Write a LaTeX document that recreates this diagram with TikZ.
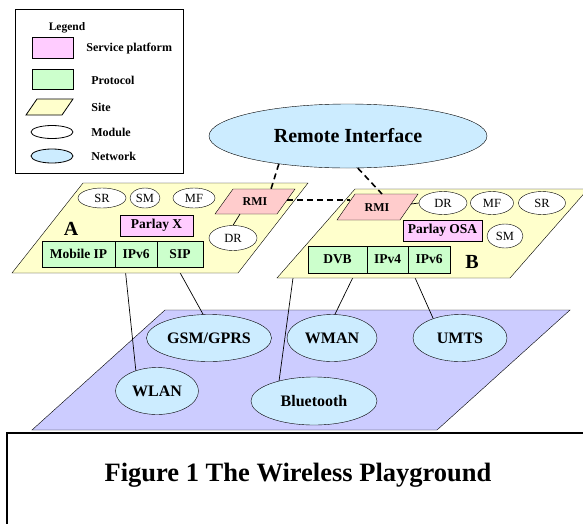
\documentclass[tikz,border=0pt]{standalone}
\usepackage{fontspec}
\setmainfont{Liberation Serif}
\usetikzlibrary{shapes.geometric}
\pgfdeclarelayer{planelayer}
\pgfdeclarelayer{linklayer}
\pgfsetlayers{planelayer,linklayer,main}
\definecolor{svcpink}{HTML}{FFCCFF}
\definecolor{protogreen}{HTML}{CCFFCC}
\definecolor{siteyellow}{HTML}{FFFFCC}
\definecolor{netblue}{HTML}{CCECFF}
\definecolor{rmipink}{HTML}{FFCCCC}
\definecolor{planeblue}{HTML}{CCCCFF}
\begin{document}
\begin{tikzpicture}[x=1pt,y=-1pt,line width=0.8pt,
  module/.style={ellipse, draw, fill=white, inner sep=0pt, font=\fontsize{12.5}{14}\selectfont},
  network/.style={ellipse, draw, fill=netblue, inner sep=0pt, font=\fontsize{16}{18}\selectfont\bfseries},
  proto/.style={rectangle, draw, fill=protogreen, inner sep=0pt, font=\fontsize{13.5}{16}\selectfont\bfseries},
  svc/.style={rectangle, draw, fill=svcpink, inner sep=0pt, font=\fontsize{13.5}{16}\selectfont\bfseries},
  sitebox/.style={draw, fill=siteyellow},
  rmibox/.style={draw, fill=rmipink},
  lbl/.style={inner sep=0pt, font=\fontsize{12}{14}\selectfont\bfseries},
  rmilbl/.style={inner sep=0pt, font=\fontsize{12}{14}\selectfont\bfseries},
  sitelbl/.style={inner sep=0pt, font=\fontsize{20}{22}\selectfont\bfseries},
  wire/.style={line width=0.7pt},
  rwire/.style={line width=1.6pt, dash pattern=on 6pt off 4pt}]
\useasboundingbox (0,0) rectangle (583,523);

% ---------- legend ----------
\draw[line width=0.8pt] (15,9) rectangle (183,173);
\node[lbl, font=\fontsize{11.5}{13}\selectfont\bfseries] (lgd) at (67,28) {Legend};
\draw[fill=svcpink] (32,37) rectangle (73,58);
\node[lbl, anchor=west] (lsvc) at (86,49) {Service platform};
\draw[fill=protogreen] (32,69) rectangle (73,89);
\node[lbl, anchor=west] (lproto) at (91,80) {Protocol};
\draw[sitebox] (26,115) -- (37,99) -- (73,99) -- (62,115) -- cycle;
\node[lbl, anchor=west] (lsite) at (91,107) {Site};
\node[module, minimum width=42pt, minimum height=13pt] (lmodshape) at (52,132) {};
\node[lbl, anchor=west] (lmod) at (91,132) {Module};
\node[network, minimum width=42pt, minimum height=14pt] (lnetshape) at (52,156) {};
\node[lbl, anchor=west] (lnet) at (91,156) {Network};

% ---------- network plane ----------
\begin{pgfonlayer}{planelayer}
\draw[fill=planeblue] (32,430) -- (165,310) -- (570,310) -- (437,430) -- cycle;
\end{pgfonlayer}

% ---------- networks ----------
\node[network, minimum width=125pt, minimum height=47pt] (gsm) at (209,338) {GSM/GPRS};
\node[network, minimum width=90pt, minimum height=47pt] (wman) at (332,338) {WMAN};
\node[network, minimum width=94pt, minimum height=47pt] (umts) at (460,338) {UMTS};
\node[network, minimum width=83pt, minimum height=47pt] (wlan) at (157,391) {WLAN};
\node[network, minimum width=126pt, minimum height=48pt] (bt) at (314,401) {Bluetooth};

% ---------- remote interface ----------
\node[network, minimum width=278pt, minimum height=64pt, font=\fontsize{20}{24}\selectfont\bfseries] (ri) at (348,136) {Remote Interface};

% ---------- site A ----------
\draw[sitebox] (12,273) -- (83,183) -- (308,183) -- (238,273) -- cycle;
\node[module, minimum width=48pt, minimum height=20pt] (srA) at (102,198) {SR};
\node[module, minimum width=30pt, minimum height=20pt] (smA) at (145,198) {SM};
\node[module, minimum width=42pt, minimum height=20pt] (mfA) at (194,198) {MF};
\draw[rmibox] (215,214) -- (233,189) -- (295,189) -- (277,214) -- cycle;
\node[rmilbl] (rmiA) at (255,202) {RMI};
\coordinate (rmiAtop) at (271,189);
\coordinate (rmiAright) at (287,200);
\coordinate (rmiAbot) at (240,214);
\node[module, minimum width=48pt, minimum height=25pt] (drA) at (233,238) {DR};
\node[sitelbl] (labA) at (71,229) {A};
\node[svc, minimum width=73pt, minimum height=21pt] (parlayX) at (156.5,225.5) {Parlay X};
\node[proto, minimum width=73pt, minimum height=26pt] (mobip) at (78.5,254) {Mobile IP};
\node[proto, minimum width=42pt, minimum height=26pt] (ipv6A) at (136,254) {IPv6};
\node[proto, minimum width=46pt, minimum height=26pt] (sipA) at (180,254) {SIP};
\draw[wire] (rmiAbot) -- (drA.north);

% ---------- site B ----------
\draw[sitebox] (277,278) -- (355,189) -- (588,189) -- (510,278) -- cycle;
\coordinate (siteBfoot) at (293,278);
\draw[rmibox] (337,220) -- (355,194) -- (418,194) -- (400,220) -- cycle;
\node[rmilbl] (rmiB) at (377,208) {RMI};
\coordinate (rmiBtop) at (382,194);
\coordinate (rmiBleft) at (350,200);
\coordinate (rmiBright) at (411,204);
\node[module, minimum width=48pt, minimum height=23pt] (drB) at (443,203) {DR};
\node[module, minimum width=43pt, minimum height=23pt] (mfB) at (492,203) {MF};
\node[module, minimum width=47pt, minimum height=23pt] (srB) at (542,203) {SR};
\node[module, minimum width=36pt, minimum height=24pt] (smB) at (505,236) {SM};
\node[svc, minimum width=79pt, minimum height=21pt] (parlayOSA) at (442.5,230.5) {Parlay OSA};
\node[proto, minimum width=59pt, minimum height=27pt] (dvb) at (337.5,259.5) {DVB};
\node[proto, minimum width=41pt, minimum height=27pt] (ipv4) at (387.5,259.5) {IPv4};
\node[proto, minimum width=42pt, minimum height=27pt] (ipv6B) at (429,259.5) {IPv6};
\node[sitelbl] (labB) at (472,262) {B};
\draw[wire] (rmiBright) -- (drB.west);

% ---------- links to networks ----------
\begin{pgfonlayer}{linklayer}
\draw[wire] ([xshift=-11pt]ipv6A.south) -- (wlan.136);
\draw[wire] ([xshift=-3pt]sipA.south) -- (gsm.104);
\draw[wire] (siteBfoot) -- (bt.150);
\draw[wire] ([xshift=17.5pt]dvb.south) -- (wman.83);
\draw[wire] ([xshift=-16pt]ipv6B.south) -- (umts.144);
\end{pgfonlayer}

% ---------- remote links ----------
\draw[rwire] (ri.202) -- (rmiAtop);
\draw[rwire] (ri.287) -- (rmiBtop);
\draw[rwire] (rmiAright) -- (rmiBleft);

% ---------- caption ----------
\draw[line width=2pt] (7,433) rectangle (595,535);
\node[inner sep=0pt, font=\fontsize{26.5}{30}\selectfont\bfseries] (cap) at (298,475) {Figure 1 The Wireless Playground};
\end{tikzpicture}
\end{document}
